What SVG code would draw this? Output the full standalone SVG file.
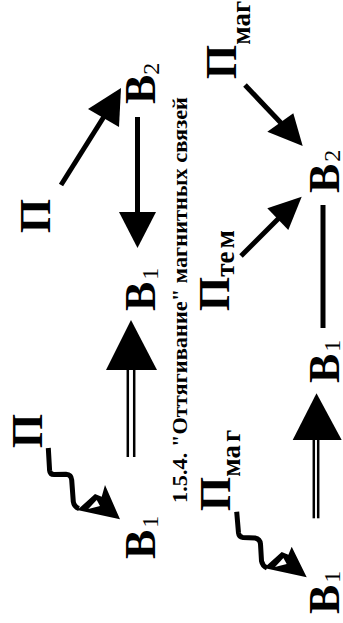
<svg xmlns="http://www.w3.org/2000/svg" width="343" height="623" viewBox="0 0 343 623">
<style>
.lbl{font-family:"Liberation Serif","Times New Roman",serif;font-weight:bold;fill:#000}
.big{font-size:44px}
.sub{font-size:24px;font-weight:normal}
.subw{font-size:27px}
.title{font-size:22px}
.ln{stroke:#000;stroke-width:5;fill:none;stroke-linejoin:round}
.dl{stroke:#000;stroke-width:2.5}
.head{fill:#000}
</style>
<rect width="343" height="623" fill="#fff"/>
<g id="title"><text class="lbl title" transform="translate(186.5,503) rotate(-90)" textLength="406" lengthAdjust="spacingAndGlyphs">1.5.4. "Оттягивание" магнитных связей</text></g>
<g id="n-P-top-left"><text class="lbl big" transform="translate(50,233) rotate(-90)">П</text></g>
<g id="n-B2-left"><text class="lbl big" transform="translate(155,104) rotate(-90)">В<tspan class="sub" dy="4">2</tspan></text></g>
<g id="n-B1-mid-left"><text class="lbl big" transform="translate(155,311) rotate(-90)">В<tspan class="sub" dy="3" dx="2">1</tspan></text></g>
<g id="n-P-bottom-left"><text class="lbl big" transform="translate(42,448) rotate(-90)">П</text></g>
<g id="n-B1-bottom-left"><text class="lbl big" transform="translate(155,559) rotate(-90)">В<tspan class="sub" dy="3" dx="2">1</tspan></text></g>
<g id="n-Pmag-top"><text class="lbl big" transform="translate(236,79) rotate(-90)">П<tspan class="subw" dy="14">маг</tspan></text></g>
<g id="n-B2-right"><text class="lbl big" transform="translate(339,193) rotate(-90)">В<tspan class="sub" dy="1" dx="2">2</tspan></text></g>
<g id="n-Ptem"><text class="lbl big" transform="translate(229,311) rotate(-90)">П<tspan class="subw" dy="5">те</tspan><tspan class="subw" dx="3">м</tspan></text></g>
<g id="n-B1-mid-right"><text class="lbl big" transform="translate(339,383) rotate(-90)">В<tspan class="sub" dy="1" dx="2">1</tspan></text></g>
<g id="n-Pmag-bottom"><text class="lbl big" transform="translate(230,511) rotate(-90)">П<tspan class="subw" dy="10">ма</tspan><tspan class="subw" dx="3">г</tspan></text></g>
<g id="n-B1-bottom-right"><text class="lbl big" transform="translate(339,614) rotate(-90)">В<tspan class="sub" dy="1" dx="2">1</tspan></text></g>
<g id="connectors">
<line class="ln" x1="61" y1="185" x2="105" y2="115"/>
<polygon class="head" points="121,88 88,109 119,127"/>
<line class="ln" x1="137.5" y1="117" x2="137.5" y2="214"/>
<polygon class="head" points="137.5,248 119,212 156,212"/>
<line class="dl" x1="127.8" y1="368" x2="127.8" y2="457"/>
<line class="dl" x1="134.2" y1="368" x2="134.2" y2="457"/>
<polygon class="head" points="131,320 106,370 157,370"/>
<path class="ln" d="M48.3,448 L49.6,470.5 Q50,474.5 54,474.6 L66,474.2 Q71.3,474.5 71.7,480 L73.3,501.7 Q74.2,507 79,508.5"/>
<polygon class="head" points="120,519.3 105,485 101.7,496.7 95,494 81.7,506 77.3,510"/>
<polygon fill="#fff" points="88.3,509 96.7,500 100,506"/>
<line class="ln" x1="245" y1="85" x2="281" y2="123"/>
<polygon class="head" points="302.7,146 267.3,131.7 293.3,113.3"/>
<line class="ln" x1="241" y1="256" x2="278.5" y2="218.5"/>
<polygon class="head" points="301.7,196.7 267.3,208.3 288.3,230"/>
<line class="ln" x1="323" y1="205" x2="323" y2="328"/>
<line class="dl" x1="313.8" y1="438" x2="313.8" y2="518.3"/>
<line class="dl" x1="318.2" y1="438" x2="318.2" y2="518.3"/>
<polygon class="head" points="316.5,393.3 292.7,440 341.7,440"/>
<path class="ln" d="M236.7,511.7 L238.5,533 Q239,537 243,537.5 L255,538 Q260,539 260.5,544 L261.5,561 Q262.5,566 267,568"/>
<polygon class="head" points="306.7,577.3 291.7,546.7 288.4,554.7 281.7,552 268.4,564 264,568"/>
<polygon fill="#fff" points="275,567 283.4,558 286.7,564"/>
</g>
</svg>
